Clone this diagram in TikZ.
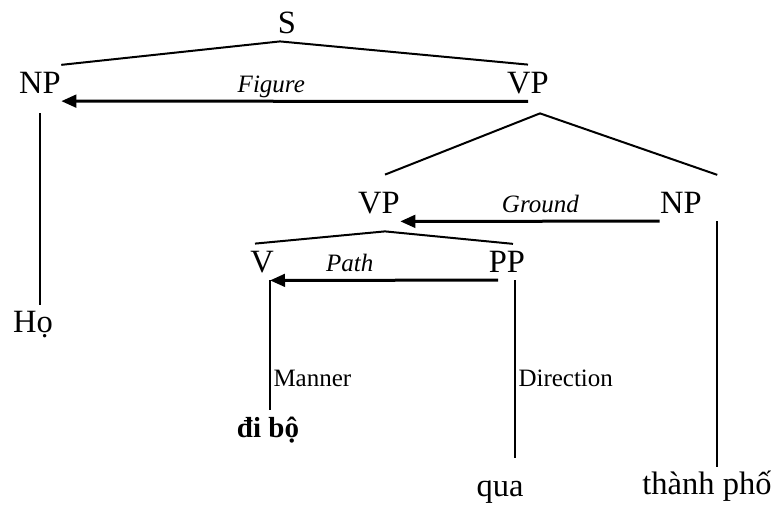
\documentclass[tikz,border=0pt]{standalone}
\usepackage{fontspec}
\setmainfont{Liberation Serif}
\usepackage{tikz}
\usetikzlibrary{arrows.meta}
\tikzstyle{cat} = [font=\fontsize{13}{15}\selectfont, inner xsep=0pt, inner ysep=2.8pt]
\tikzstyle{leaf} = [font=\fontsize{13}{15}\selectfont, anchor=base, text height=8pt, inner xsep=0pt, inner ysep=3pt]
\tikzstyle{branch} = [line width=0.8pt]
\tikzstyle{rolearrow} = [line width=1.2pt, -{Triangle[length=6pt,width=5pt]}]
\tikzstyle{role} = [font=\fontsize{10}{12}\selectfont\itshape, above, text depth=2.2pt, inner sep=0.6pt]
\tikzstyle{fn} = [font=\fontsize{10}{12}\selectfont, anchor=west, inner sep=1pt]

\begin{document}
\begin{tikzpicture}[x=0.4pt, y=-0.4pt]
\useasboundingbox (0,0) rectangle (775,506);

% Category nodes
\node[cat] (s) at (287,23) {S};
\node[cat] (np1) at (40,83) {NP};
\node[cat] (vp1) at (528,83) {VP};
\node[cat] (vp2) at (379,203) {VP};
\node[cat] (np2) at (681,203) {NP};
\node[cat] (v) at (262,262) {V};
\node[cat] (pp) at (507,262) {PP};

% Words
\node[leaf] (ho) at (33,333) {Họ};
\node[leaf, font=\fontsize{11.6}{14}\selectfont\bfseries] (dibo) at (268,438) {đi bộ};
\node[leaf] (qua) at (500,497) {qua};
\node[leaf] (tp) at (707,495) {thành phố};

% Stems and forks
\coordinate (vstem) at ([xshift=3.2pt]v.south);
\coordinate (ppstem) at ([xshift=3.2pt]pp.south);
\coordinate (np2stem) at ([xshift=6pt]np2.south east);
\coordinate (quatop) at ([yshift=4.4pt]qua.north);

% Branches
\draw[branch] (np1.north east) -- ([xshift=-2.8pt]s.south) -- (vp1.north);
\draw[branch] ([shift={(2.4pt,4pt)}]vp2.north) -- ([shift={(4.8pt,-4.8pt)}]vp1.south) -- ([shift={(6pt,4pt)}]np2.north east);
\draw[branch] ([xshift=-2.8pt]v.north) -- ([shift={(2.4pt,-4pt)}]vp2.south) -- ([xshift=2.4pt]pp.north);
\draw[branch] ([yshift=-4.8pt]np1.south) -- (np1.south |- ho.north);
\draw[branch] (np2stem) -- (np2stem |- tp.north);
\draw[branch] (vstem) -- (vstem |- dibo.north) node[fn, pos=0.756] {Manner};
\draw[branch] (ppstem) -- (ppstem |- quatop) node[fn, pos=0.55] {Direction};

% Role arrows
\draw[rolearrow] (vp1.south) -- (np1.south east) node[role, pos=0.55] {Figure};
\draw[rolearrow] (np2.south west) -- (vp2.south east) node[role, pos=0.46] {Ground};
\draw[rolearrow] ([xshift=-3.6pt]pp.south) -- (vstem) node[role, pos=0.65] {Path};
\end{tikzpicture}
\end{document}
